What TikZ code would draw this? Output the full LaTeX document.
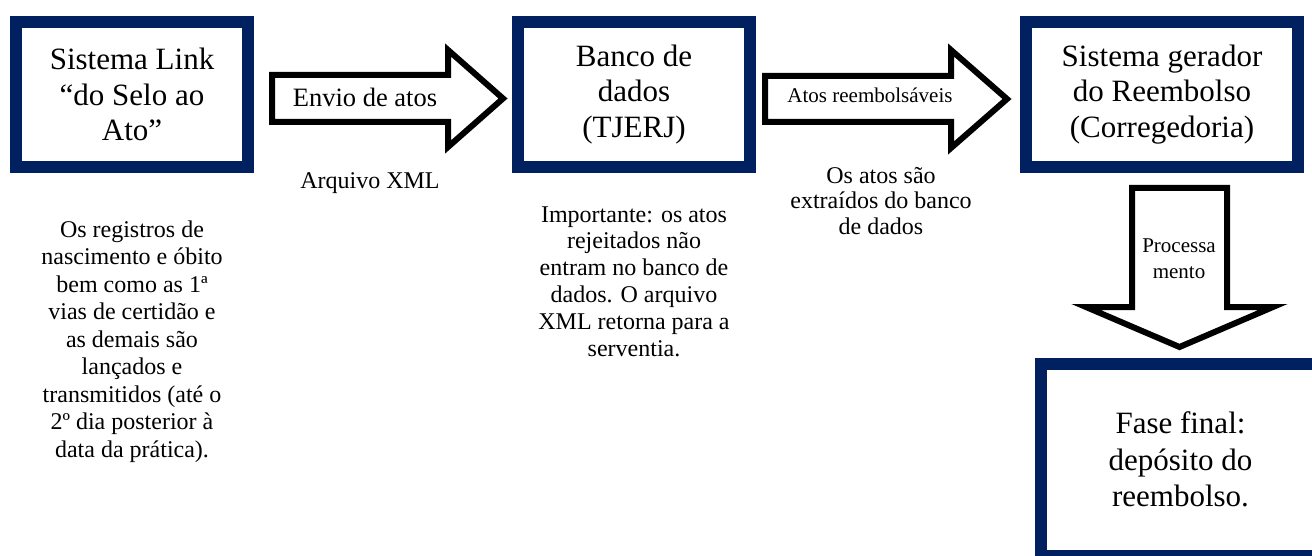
\documentclass[tikz,border=0pt]{standalone}
\usepackage{fontspec}
\setmainfont{Liberation Serif}
\definecolor{navyblue}{HTML}{002060}
\begin{document}
\begin{tikzpicture}[x=1pt,y=-1pt,
  boxnode/.style={draw=navyblue, line width=12pt, fill=white, rectangle, inner sep=0pt, align=center, font=\fontsize{31}{35.5}\selectfont},
  blockarrow/.style={draw=black, line width=6pt, fill=white, line join=miter},
  arrowlabel/.style={inner sep=0pt, align=center, anchor=base},
  notetext/.style={inner sep=0pt, align=center, anchor=base, font=\fontsize{24}{27.5}\selectfont},
]
\useasboundingbox (0,0) rectangle (1312,556);

% boxes
\node[boxnode, minimum width=232pt, minimum height=145pt] (box1) at (132,94.5) {Sistema Link\\“do Selo ao\\Ato”};
\node[boxnode, minimum width=232pt, minimum height=145pt] (box2) at (634,94.5) {Banco de\\dados\\(TJERJ)};
\node[boxnode, minimum width=272pt, minimum height=145pt] (box3) at (1162,94.5) {Sistema gerador\\do Reembolso\\(Corregedoria)};
\node[boxnode, minimum width=279pt, minimum height=192.5pt, font=\fontsize{31}{36.5}\selectfont] (box4) at (1180.5,459.75) {Fase final:\\depósito do\\reembolso.};

% block arrows
\draw[blockarrow] (272,75) -- (448,75) -- (448,50) -- (503,98.5) -- (448,147) -- (448,122) -- (272,122) -- cycle;
\draw[blockarrow] (765,76) -- (951,76) -- (951,50) -- (1007,99) -- (951,148) -- (951,122) -- (765,122) -- cycle;
\draw[blockarrow] (1132,188) -- (1227,188) -- (1227,307) -- (1273,307) -- (1179.5,347) -- (1086,307) -- (1132,307) -- cycle;

% arrow labels (anchor base = baseline of last line)
\node[arrowlabel, font=\fontsize{26.5}{30}\selectfont] (lab1) at (365,107) {Envio de atos};
\node[arrowlabel, font=\fontsize{21}{25}\selectfont] (lab2) at (870,103) {Atos reembolsáveis};
\node[arrowlabel, font=\fontsize{21}{25}\selectfont] (lab3) at (1179,278) {Processa\\mento};

% notes
\node[notetext] (note1) at (132,457) {Os registros de\\nascimento e óbito\\bem como as 1ª\\vias de certidão e\\as demais são\\lançados e\\transmitidos (até o\\2º dia posterior à\\data da prática).};
\node[notetext] (note2) at (370,189) {Arquivo XML};
\node[notetext, font=\fontsize{24}{26.8}\selectfont] (note3) at (634,356) {Importante: os atos\\rejeitados não\\entram no banco de\\dados. O arquivo\\XML retorna para a\\serventia.};
\node[notetext, font=\fontsize{24}{25.8}\selectfont] (note4) at (881,234.6) {Os atos são\\extraídos do banco\\de dados};
\end{tikzpicture}
\end{document}
